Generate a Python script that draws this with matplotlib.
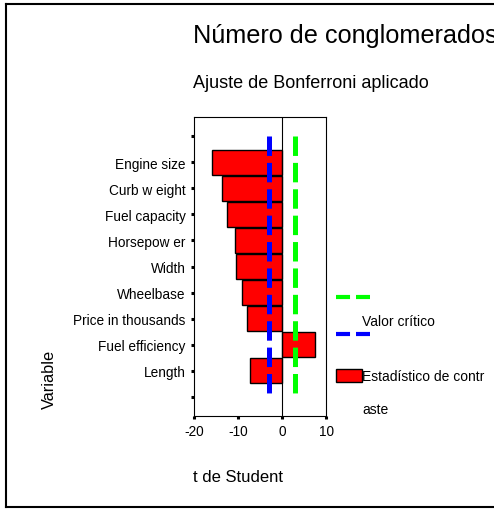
import matplotlib
matplotlib.use("Agg")
import matplotlib.pyplot as plt
from matplotlib.lines import Line2D
from matplotlib.patches import Rectangle

# Datos
etiquetas_variables = [
    "",
    "Engine size",
    "Curb w eight",
    "Fuel capacity",
    "Horsepow er",
    "Width",
    "Wheelbase",
    "Price in thousands",
    "Fuel efficiency",
    "Length",
    "",
]
estadistico_t = [-16.0, -13.6, -12.4, -10.7, -10.4, -9.2, -8.0, 7.4, -7.2]
critico_inferior = -2.95
critico_superior = 2.85
ticks_x = [-20, -10, 0, 10]

FUENTE = ["Liberation Sans", "DejaVu Sans"]
ANCHO, ALTO = 494, 510


def fx(px: float) -> float:
    """Convierte pixel horizontal a coordenada de figura."""
    return px / ANCHO


def fy(py: float) -> float:
    """Convierte pixel vertical (desde arriba) a coordenada de figura."""
    return 1 - py / ALTO


def linea_figura(fig, xs, ys, **kw) -> None:
    """Dibuja una linea en pixeles sobre la figura."""
    fig.add_artist(Line2D([fx(x) for x in xs], [fy(y) for y in ys],
                          transform=fig.transFigure, **kw))


def main() -> None:
    plt.rcParams["font.family"] = FUENTE
    plt.rcParams["lines.scale_dashes"] = False

    fig = plt.figure(figsize=(ANCHO / 100, ALTO / 100), dpi=100)
    ax = fig.add_axes([fx(194), fy(417), fx(326) - fx(194), fy(118) - fy(417)])

    posiciones = list(range(1, len(estadistico_t) + 1))
    ax.barh(posiciones, estadistico_t, height=0.96, color="#ff0000",
            edgecolor="black", linewidth=1.0, zorder=2)

    ax.axvline(0, color="black", linewidth=0.8, zorder=3)

    n = len(etiquetas_variables) - 1
    for valor, color in [(critico_inferior, "#0000ff"), (critico_superior, "#00ff00")]:
        ax.plot([valor, valor], [0, n], color=color, linewidth=3.6,
                dashes=(14, 5), solid_capstyle="butt", dash_capstyle="butt",
                zorder=4)

    ax.set_xlim(-20, 10)
    ax.set_ylim(n + 0.73, -0.73)
    ax.set_xticks(ticks_x)
    ax.set_xticklabels([str(t) for t in ticks_x], fontsize=9.8)
    ax.set_yticks(range(len(etiquetas_variables)))
    ax.set_yticklabels(etiquetas_variables, fontsize=9.8)
    ax.tick_params(axis="both", length=2.5, width=2.2, pad=3.5, color="black")
    for spine in ax.spines.values():
        spine.set_linewidth(0.8)

    # Titulos
    fig.text(fx(193), fy(43), "Número de conglomerados", fontsize=18.2,
             va="baseline", ha="left")
    fig.text(fx(193), fy(88), "Ajuste de Bonferroni aplicado", fontsize=13,
             va="baseline", ha="left")

    # Etiquetas de ejes
    fig.text(fx(49), fy(379), "Variable", fontsize=11.8, rotation=90,
             va="center", ha="center")
    fig.text(fx(193), fy(478), "t de Student", fontsize=12,
             va="center", ha="left")

    # Leyenda dibujada a mano, como en SPSS
    for y_px, color in [(297.7, "#00ff00"), (335, "#0000ff")]:
        linea_figura(fig, [336, 370], [y_px, y_px], color=color,
                     linewidth=3.0, dashes=(10.1, 4.3), dash_capstyle="butt")
    fig.text(fx(362), fy(321.7), "Valor crítico", fontsize=10,
             va="center", ha="left")
    fig.add_artist(Rectangle((fx(336), fy(383)), fx(362) - fx(336),
                             fy(370) - fy(383), transform=fig.transFigure,
                             facecolor="#ff0000", edgecolor="black",
                             linewidth=1.0))
    fig.text(fx(362), fy(377), "Estadístico de contr", fontsize=10,
             va="center", ha="left")
    fig.text(fx(362), fy(410.5), "aste", fontsize=10, va="center", ha="left")

    # Marco exterior (el borde derecho queda fuera de la imagen)
    borde = dict(color="black", linewidth=1.5, solid_capstyle="projecting")
    linea_figura(fig, [6, 6], [5.3, 508], **borde)
    linea_figura(fig, [6, 500], [5.3, 5.3], **borde)
    linea_figura(fig, [6, 500], [508, 508], **borde)

    fig.savefig("out.png", dpi=100, facecolor="white")
    plt.close(fig)


if __name__ == "__main__":
    main()
